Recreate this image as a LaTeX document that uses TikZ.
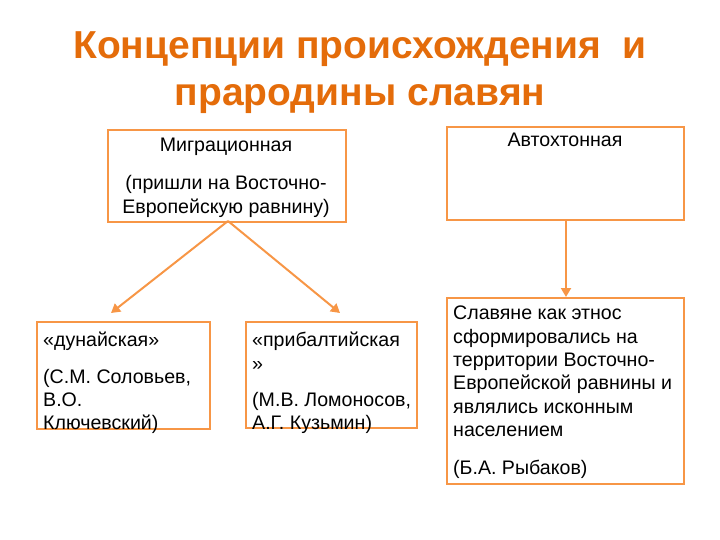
\documentclass[tikz,border=0pt]{standalone}
\usepackage{fontspec}
\setmainfont{Liberation Sans}
\usetikzlibrary{arrows.meta}
\definecolor{ttl}{HTML}{E46C0A}
\definecolor{brd}{HTML}{F79646}
\begin{document}
\begin{tikzpicture}[x=1pt,y=-1pt,
  box/.style={draw=brd,line width=2pt,inner sep=0pt,anchor=north west},
  txt/.style={inner sep=0pt,font=\fontsize{19.6}{23.3}\selectfont},
  arr/.style={draw=brd,line width=2pt,-{Triangle[width=10pt,length=9pt]}}]
\useasboundingbox (0,0) rectangle (720,540);
\node[inner sep=0pt,anchor=north,align=center,text=ttl,font=\fontsize{39}{47}\bfseries\selectfont] (title) at (360,31) {Концепции происхождения\ \ и\\прародины славян};
% boxes
\node[box,minimum width=238pt,minimum height=92pt] (mig) at (107,129) {};
\node[box,minimum width=237pt,minimum height=93pt] (aut) at (446,126) {};
\node[box,minimum width=173pt,minimum height=107pt] (dun) at (36,321) {};
\node[box,minimum width=171pt,minimum height=106pt] (pri) at (245,321) {};
\node[box,minimum width=237pt,minimum height=186pt] (sla) at (446,297) {};
% texts
\node[txt,anchor=north,align=center] (migt) at (226,138) {Миграционная\\[15pt](пришли на Восточно-\\Европейскую равнину)};
\node[txt,anchor=north,align=center] (autt) at (565,133) {Автохтонная};
\node[txt,anchor=north west,align=left] (dunt) at (43,332) {«дунайская»\\[13pt](С.М. Соловьев,\\В.О.\\Ключевский)};
\node[txt,anchor=north west,align=left] (prit) at (252,332) {«прибалтийская\\»\\[13pt](М.В. Ломоносов,\\А.Г. Кузьмин)};
\node[txt,anchor=north west,align=left] (slat) at (453,306) {Славяне как этнос\\сформировались на\\территории Восточно-\\Европейской равнины и\\являлись исконным\\населением\\[15pt](Б.А. Рыбаков)};
% connectors
\coordinate (m0) at (228,221);
\draw[arr] (m0) -- (111,313);
\draw[arr] (m0) -- (340,313);
\draw[arr] (aut.south -| 566,0) -- (566,297);
\end{tikzpicture}
\end{document}
